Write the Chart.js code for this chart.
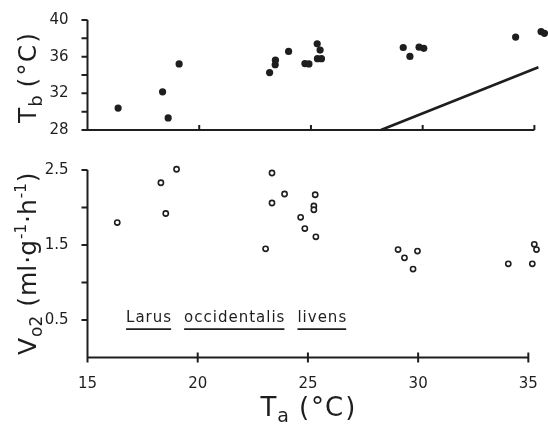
<!DOCTYPE html>
<html>
<head>
<meta charset="utf-8">
<script src="https://cdn.jsdelivr.net/npm/chart.js@4.4.1/dist/chart.umd.min.js"></script>
<style>
  html, body { margin: 0; padding: 0; background: #fff; }
  #wrap { position: relative; width: 548px; height: 429px; overflow: hidden; }
  .box { position: absolute; left: 0; width: 548px; }
</style>
</head>
<body>
<div id="wrap">
  <div class="box" style="top:0;height:150px"><canvas id="tb"></canvas></div>
  <div class="box" style="top:150px;height:279px"><canvas id="vo2"></canvas></div>
</div>
<script>
// body temperature (filled dots)
const tbTa  = [16.37, 18.36, 18.61, 19.10, 23.15, 23.40, 23.41, 24.00, 24.73, 24.91, 25.28, 25.41, 25.29, 25.47, 29.13, 29.43, 29.84, 30.05, 34.16, 35.30, 35.45];
const tbVal = [30.39, 32.16, 29.32, 35.21, 34.27, 35.12, 35.62, 36.57, 35.25, 35.21, 37.40, 36.72, 35.78, 35.78, 37.00, 36.03, 37.04, 36.91, 38.14, 38.74, 38.55];
// Tb = Ta line
const lineTa = [28.13, 35.18];
const lineTb = [28.0, 34.85];
// oxygen consumption (open circles)
const voTa  = [16.35, 18.33, 18.55, 19.04, 23.08, 23.37, 23.37, 23.94, 24.67, 24.86, 25.33, 25.27, 25.27, 25.36, 29.09, 29.38, 29.77, 29.97, 34.09, 35.18, 35.27, 35.37];
const voVal = [1.80, 2.33, 1.92, 2.51, 1.45, 2.46, 2.06, 2.18, 1.87, 1.72, 2.17, 2.02, 1.97, 1.61, 1.44, 1.33, 1.18, 1.42, 1.25, 1.25, 1.51, 1.44];

const xTicks = [15, 20, 25, 30, 35];
const tbTicks = [28, 30, 32, 34, 36, 38, 40];
const tbLabels = [28, 32, 36, 40];
const voTicks = [0.5, 1.0, 1.5, 2.0, 2.5];
const voLabels = [0.5, 1.5, 2.5];
const speciesWords = ['Larus', 'occidentalis', 'livens'];

const ink = '#1e1e1e';
const FONT = '"DejaVu Sans", sans-serif';

function pts(xs, ys) { return xs.map((v, i) => ({ x: v, y: ys[i] })); }

// draws a row of text pieces (sub/superscripts) centred on cx,cy, optionally rotated
function drawRich(ctx, parts, cx, cy, rot) {
  ctx.save();
  ctx.translate(cx, cy);
  if (rot) ctx.rotate(-Math.PI / 2);
  ctx.fillStyle = ink;
  ctx.textBaseline = 'alphabetic';
  let w = 0;
  parts.forEach(p => { ctx.font = p.size + 'px ' + FONT; w += ctx.measureText(p.t).width + (p.gap || 0); });
  let x = -w / 2;
  parts.forEach(p => {
    ctx.font = p.size + 'px ' + FONT;
    ctx.fillText(p.t, x, 9 + (p.dy || 0));
    x += ctx.measureText(p.t).width + (p.gap || 0);
  });
  ctx.restore();
}

function axesPlugin(opt) {
  return {
    id: 'axes',
    afterDraw(chart) {
      const { ctx } = chart;
      const x = chart.scales.x, y = chart.scales.y;
      const x0 = x.getPixelForValue(15), x1 = x.getPixelForValue(35);
      const yb = y.getPixelForValue(y.min), yt = y.getPixelForValue(y.max);
      ctx.save();
      ctx.strokeStyle = ink;
      ctx.lineWidth = 2;
      ctx.beginPath();
      ctx.moveTo(x0, yt); ctx.lineTo(x0, yb + opt.down);
      ctx.moveTo(x0, yb); ctx.lineTo(x1, yb);
      y.ticks.forEach(t => { const p = y.getPixelForValue(t.value); ctx.moveTo(x0 - 6, p); ctx.lineTo(x0, p); });
      xTicks.slice(1).forEach(v => { const p = x.getPixelForValue(v); ctx.moveTo(p, yb - opt.up); ctx.lineTo(p, yb + opt.down); });
      ctx.stroke();
      ctx.restore();
      if (opt.extra) opt.extra(chart, ctx);
    }
  };
}

const baseX = { type: 'linear', min: 15, max: 35.43,
  afterBuildTicks: s => { s.ticks = xTicks.map(v => ({ value: v })); } };

new Chart(document.getElementById('tb'), {
  type: 'scatter',
  data: { datasets: [
    { data: pts(tbTa, tbVal), backgroundColor: ink, borderColor: ink, pointRadius: 3.6, borderWidth: 0, clip: false },
    { data: pts(lineTa, lineTb), showLine: true, borderColor: ink, borderWidth: 2.6, pointRadius: 0, clip: false }
  ] },
  options: {
    responsive: true, maintainAspectRatio: false, animation: false,
    layout: { padding: { top: 15, bottom: 8.3, right: 0, left: 0 } },
    plugins: { legend: { display: false }, tooltip: { enabled: false } },
    scales: {
      x: Object.assign({}, baseX, { display: false }),
      y: { type: 'linear', min: 28, max: 40,
        afterBuildTicks: s => { s.ticks = tbTicks.map(v => ({ value: v })); },
        afterFit: s => { s.width = 87.5; },
        grid: { display: false }, border: { display: false },
        ticks: { padding: 11, color: ink, font: { family: FONT, size: 15 },
          callback: v => tbLabels.includes(v) ? String(v) : '' } }
    }
  },
  plugins: [axesPlugin({ up: 5, down: 0, extra: (chart, ctx) => {
    drawRich(ctx, [
      { t: 'T', size: 25, gap: 1 }, { t: 'b', size: 18, dy: 6, gap: 8 },
      { t: '(', size: 25, gap: 2 }, { t: '°', size: 25, gap: 1 }, { t: 'C', size: 25, gap: 2 }, { t: ')', size: 25 }
    ], 27, 78, true);
  } })]
});

new Chart(document.getElementById('vo2'), {
  type: 'scatter',
  data: { datasets: [
    { data: pts(voTa, voVal), backgroundColor: '#fff', borderColor: ink, pointRadius: 2.6, borderWidth: 1.6, clip: false }
  ] },
  options: {
    responsive: true, maintainAspectRatio: false, animation: false,
    layout: { padding: { top: 14, bottom: 0, right: 0, left: 0 } },
    plugins: { legend: { display: false }, tooltip: { enabled: false } },
    scales: {
      x: Object.assign({}, baseX, {
        afterFit: s => { s.height = 71.4; },
        grid: { display: false }, border: { display: false },
        ticks: { padding: 10, maxRotation: 0, color: ink, font: { family: FONT, size: 15 } } }),
      y: { type: 'linear', min: 0, max: 2.5,
        afterBuildTicks: s => { s.ticks = voTicks.map(v => ({ value: v })); },
        afterFit: s => { s.width = 87.5; },
        grid: { display: false }, border: { display: false },
        ticks: { padding: 11, color: ink, font: { family: FONT, size: 15 },
          callback: v => voLabels.includes(v) ? v.toFixed(1) : '' } }
    }
  },
  plugins: [axesPlugin({ up: 5, down: 5, extra: (chart, ctx) => {
    const x = chart.scales.x, y = chart.scales.y;
    // species name, each word underlined
    ctx.save();
    ctx.fillStyle = ink; ctx.strokeStyle = ink; ctx.lineWidth = 1.6;
    ctx.font = '15px ' + FONT;
    ctx.letterSpacing = '1px';
    ctx.textBaseline = 'middle';
    let px = x.getPixelForValue(16.75);
    const py = y.getPixelForValue(0.5);
    speciesWords.forEach(w => {
      const ww = ctx.measureText(w).width - 1;
      ctx.fillText(w, px, py - 2);
      ctx.beginPath(); ctx.moveTo(px, py + 9); ctx.lineTo(px + ww, py + 9); ctx.stroke();
      px += ww + 13;
    });
    ctx.restore();
    drawRich(ctx, [
      { t: 'V', size: 25, gap: 1 }, { t: 'o2', size: 17, dy: 6, gap: 9 },
      { t: '(', size: 25, gap: 1 }, { t: 'ml', size: 25, gap: 1 }, { t: '·', size: 25 }, { t: 'g', size: 25, gap: 1 },
      { t: '-1', size: 15, dy: -10, gap: 1 }, { t: '·', size: 25 }, { t: 'h', size: 25, gap: 1 },
      { t: '-1', size: 15, dy: -10, gap: 1 }, { t: ')', size: 25 }
    ], 27, (chart.chartArea.top + chart.chartArea.bottom) / 2, true);
    drawRich(ctx, [
      { t: 'T', size: 26, gap: 1 }, { t: 'a', size: 19, dy: 6, gap: 10 },
      { t: '(', size: 26, gap: 2 }, { t: '°', size: 26, gap: 1 }, { t: 'C', size: 26, gap: 2 }, { t: ')', size: 26 }
    ], (chart.chartArea.left + x.getPixelForValue(35)) / 2, 257, false);
  } })]
});
</script>
</body>
</html>
